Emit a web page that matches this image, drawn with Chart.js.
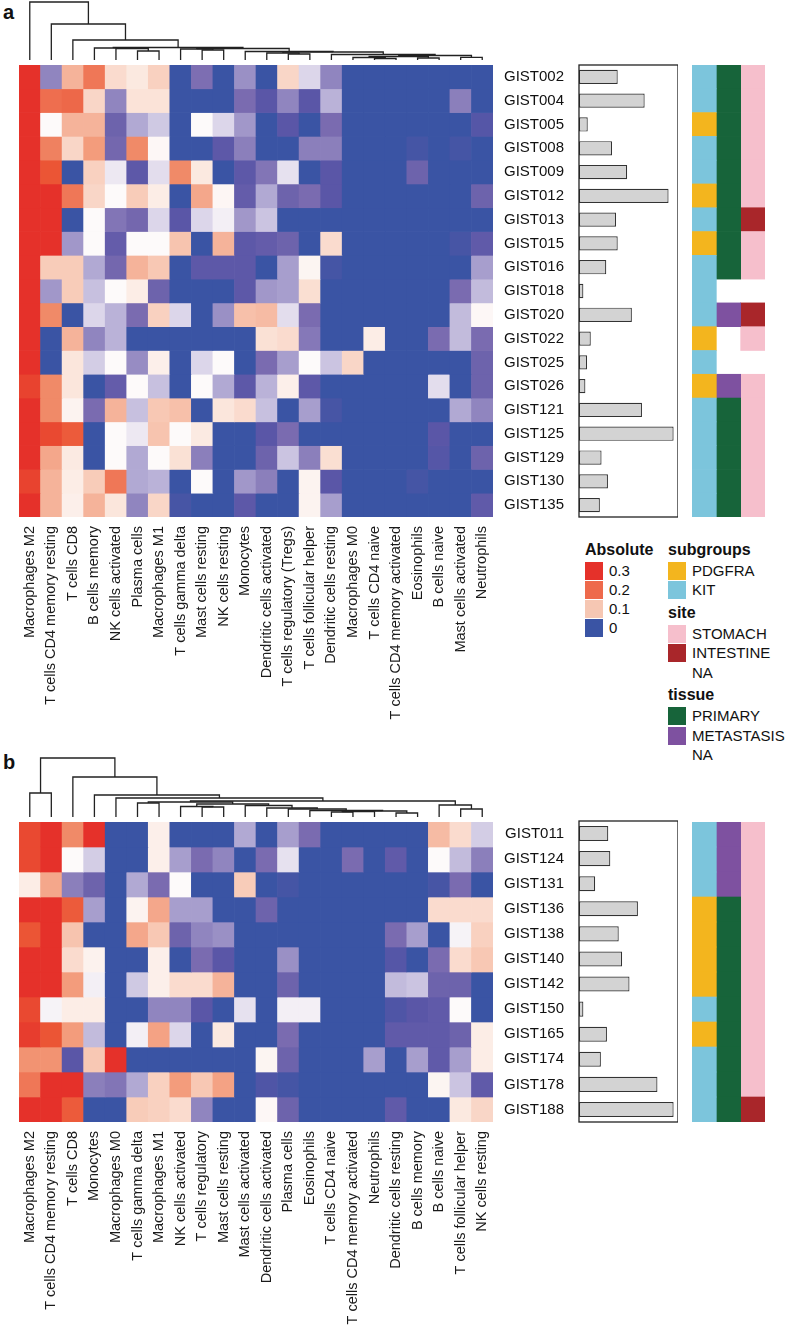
<!DOCTYPE html>
<html>
<head>
<meta charset="utf-8">
<script src="https://cdn.jsdelivr.net/npm/chart.js@4.4.1/dist/chart.umd.min.js"></script>
<style>
  body { margin: 0; background: #fff; width: 800px; height: 1331px; position: relative; overflow: hidden;
         font-family: "Liberation Sans", Arial, sans-serif; color: #111; }
  canvas { position: absolute; }
  .t { position: absolute; font-size: 15px; line-height: 18px; white-space: nowrap; }
  .h { position: absolute; font-size: 16px; font-weight: bold; line-height: 18px; }
  .sw { position: absolute; width: 18px; height: 18px; }
  .tag { position: absolute; font-size: 20px; font-weight: bold; }
</style>
</head>
<body>
<div class="tag" style="left:3px;top:1px">a</div>
<div class="tag" style="left:3px;top:751px">b</div>

<canvas id="dendA" width="474" height="60" style="left:19px;top:0px"></canvas>
<canvas id="heatA" width="474" height="682" style="left:19px;top:65px"></canvas>
<canvas id="barA" width="183" height="454" style="left:495px;top:64px"></canvas>
<canvas id="annA" width="73" height="452" style="left:692px;top:65px"></canvas>

<canvas id="dendB" width="474" height="60" style="left:19px;top:757px"></canvas>
<canvas id="heatB" width="474" height="509" style="left:19px;top:822px"></canvas>
<canvas id="barB" width="183" height="303" style="left:495px;top:820px"></canvas>
<canvas id="annB" width="73" height="300" style="left:692px;top:822px"></canvas>

<!-- legends -->
<div class="h" style="left:585px;top:541px">Absolute</div>
<div class="sw" style="left:585px;top:562px;background:#e5312a"></div><div class="t" style="left:609px;top:562px">0.3</div>
<div class="sw" style="left:585px;top:581px;background:#ee6a4c"></div><div class="t" style="left:609px;top:581px">0.2</div>
<div class="sw" style="left:585px;top:600px;background:#f6c7b3"></div><div class="t" style="left:609px;top:600px">0.1</div>
<div class="sw" style="left:585px;top:619px;background:#3a54a4"></div><div class="t" style="left:609px;top:619px">0</div>

<div class="h" style="left:668px;top:541px">subgroups</div>
<div class="sw" style="left:668px;top:562px;background:#f3b51e"></div><div class="t" style="left:692px;top:562px">PDGFRA</div>
<div class="sw" style="left:668px;top:581px;background:#7cc5dc"></div><div class="t" style="left:692px;top:581px">KIT</div>
<div class="h" style="left:668px;top:604px">site</div>
<div class="sw" style="left:668px;top:625px;background:#f6bfcc"></div><div class="t" style="left:692px;top:625px">STOMACH</div>
<div class="sw" style="left:668px;top:644px;background:#a9262a"></div><div class="t" style="left:692px;top:644px">INTESTINE</div>
<div class="t" style="left:692px;top:664px">NA</div>
<div class="h" style="left:668px;top:686px">tissue</div>
<div class="sw" style="left:668px;top:707px;background:#17643a"></div><div class="t" style="left:692px;top:707px">PRIMARY</div>
<div class="sw" style="left:668px;top:727px;background:#7e51a0"></div><div class="t" style="left:692px;top:727px">METASTASIS</div>
<div class="t" style="left:692px;top:746px">NA</div>

<script>
const FONT = '"Liberation Sans", Arial, sans-serif';

// ---- panel a ----
const cellTypesA = ['Macrophages M2', 'T cells CD4 memory resting', 'T cells CD8', 'B cells memory',
  'NK cells activated', 'Plasma cells', 'Macrophages M1', 'T cells gamma delta', 'Mast cells resting',
  'NK cells resting', 'Monocytes', 'Dendritic cells activated', 'T cells regulatory (Tregs)',
  'T cells follicular helper', 'Dendritic cells resting', 'Macrophages M0', 'T cells CD4 naive',
  'T cells CD4 memory activated', 'Eosinophils', 'B cells naive', 'Mast cells activated', 'Neutrophils'];
const samplesA = ['GIST002', 'GIST004', 'GIST005', 'GIST008', 'GIST009', 'GIST012', 'GIST013', 'GIST015',
  'GIST016', 'GIST018', 'GIST020', 'GIST022', 'GIST025', 'GIST026', 'GIST121', 'GIST125', 'GIST129',
  'GIST130', 'GIST135'];
// absolute fractions, one row per sample, columns in cellTypesA order
const absA = [
  [0.34, 0.03, 0.13, 0.19, 0.085, 0.073, 0.095, 0, 0.023, 0, 0.033, 0, 0.09, 0.05, 0.03, 0, 0, 0, 0, 0, 0, 0],
  [0.33, 0.2, 0.21, 0.09, 0.03, 0.078, 0.078, 0, 0, 0, 0.022, 0.012, 0.03, 0.012, 0.042, 0, 0, 0, 0, 0, 0.028, 0],
  [0.33, 0.06, 0.13, 0.13, 0.018, 0.04, 0.047, 0, 0.06, 0.05, 0.035, 0, 0.012, 0, 0.022, 0, 0, 0, 0, 0, 0, 0.01],
  [0.32, 0.18, 0.09, 0.15, 0.02, 0.17, 0.062, 0, 0, 0.013, 0.028, 0, 0, 0.028, 0.028, 0, 0, 0, 0.004, 0, 0.004, 0],
  [0.31, 0.24, 0, 0.095, 0.055, 0.013, 0.052, 0.17, 0.073, 0, 0.013, 0.025, 0.053, 0, 0.012, 0, 0, 0, 0.018, 0, 0, 0],
  [0.34, 0.3, 0.19, 0.09, 0.06, 0.1, 0.07, 0, 0.14, 0.063, 0.015, 0.04, 0.018, 0.022, 0.012, 0, 0, 0, 0, 0, 0, 0.018],
  [0.33, 0.3, 0, 0.06, 0.025, 0.02, 0.05, 0.012, 0.05, 0.057, 0.035, 0.046, 0, 0, 0, 0, 0, 0, 0, 0, 0, 0],
  [0.33, 0.3, 0.035, 0.06, 0.015, 0.06, 0.06, 0.11, 0, 0.13, 0.013, 0.015, 0.018, 0, 0.085, 0, 0, 0, 0, 0, 0.005, 0.014],
  [0.32, 0.1, 0.1, 0.04, 0.02, 0.13, 0.105, 0, 0.013, 0.013, 0.013, 0, 0.037, 0.064, 0.004, 0, 0, 0, 0, 0, 0, 0.037],
  [0.31, 0.035, 0.1, 0.045, 0.06, 0.07, 0.018, 0, 0, 0, 0.013, 0.035, 0.037, 0.082, 0, 0, 0, 0, 0, 0, 0.022, 0.044],
  [0.32, 0.17, 0, 0.05, 0.042, 0.022, 0.095, 0.05, 0, 0.033, 0.115, 0.12, 0.052, 0.022, 0, 0, 0, 0, 0, 0, 0.044, 0.062],
  [0.33, 0, 0.13, 0.03, 0.042, 0, 0, 0, 0, 0, 0, 0.08, 0.085, 0.026, 0, 0, 0.07, 0, 0, 0.022, 0.044, 0.022],
  [0.32, 0, 0.075, 0.048, 0.06, 0.032, 0.068, 0, 0.05, 0.06, 0, 0.022, 0.037, 0.06, 0.046, 0.09, 0, 0, 0, 0, 0, 0.018],
  [0.27, 0.17, 0.075, 0, 0.015, 0.06, 0.045, 0, 0.06, 0.04, 0.013, 0.042, 0.068, 0.013, 0, 0, 0, 0, 0, 0.052, 0, 0.018],
  [0.3, 0.17, 0.065, 0.022, 0.13, 0.045, 0.105, 0.115, 0, 0.075, 0.085, 0.045, 0, 0.037, 0.005, 0, 0, 0, 0, 0, 0.04, 0.03],
  [0.31, 0.26, 0.23, 0, 0.06, 0.055, 0.11, 0.06, 0.072, 0, 0, 0.012, 0.022, 0, 0, 0, 0, 0, 0, 0.012, 0, 0],
  [0.31, 0.14, 0.072, 0, 0.06, 0.04, 0.06, 0.08, 0.028, 0, 0, 0.018, 0.046, 0.028, 0.082, 0, 0, 0, 0, 0.01, 0, 0.018],
  [0.27, 0.13, 0.07, 0.1, 0.19, 0.04, 0.042, 0, 0.06, 0, 0.035, 0.028, 0, 0.065, 0.012, 0, 0, 0, 0.004, 0, 0, 0],
  [0.3, 0.13, 0.068, 0.13, 0.075, 0.03, 0.09, 0.005, 0, 0, 0.013, 0, 0, 0.065, 0.037, 0, 0, 0, 0, 0, 0, 0.014]
];
const scoreA = [115, 195, 26, 98, 143, 266, 110, 115, 81, 13, 157, 35, 24, 19, 187, 281, 67, 86, 62];
const subgroupA = ['KIT', 'KIT', 'PDGFRA', 'KIT', 'KIT', 'PDGFRA', 'KIT', 'PDGFRA', 'KIT', 'KIT', 'KIT',
  'PDGFRA', 'KIT', 'PDGFRA', 'KIT', 'KIT', 'KIT', 'KIT', 'KIT'];
const tissueA = ['PRIMARY', 'PRIMARY', 'PRIMARY', 'PRIMARY', 'PRIMARY', 'PRIMARY', 'PRIMARY', 'PRIMARY',
  'PRIMARY', 'NA', 'METASTASIS', 'NA', 'NA', 'METASTASIS', 'PRIMARY', 'PRIMARY', 'PRIMARY', 'PRIMARY', 'PRIMARY'];
const siteA = ['STOMACH', 'STOMACH', 'STOMACH', 'STOMACH', 'STOMACH', 'STOMACH', 'INTESTINE', 'STOMACH',
  'STOMACH', 'NA', 'INTESTINE', 'STOMACH', 'NA', 'STOMACH', 'STOMACH', 'STOMACH', 'STOMACH', 'STOMACH', 'STOMACH'];
// column clustering, hclust style: negative = leaf (1-based display order), positive = earlier merge
const mergeA = [[-21, -22, 2.7], [-17, -18, 1.5], [-19, -20, 2], [-16, 2, 2.5], [4, 3, 3.5], [5, 1, 4.5],
  [-15, 6, 5.5], [-13, -14, 6], [-12, 8, 7], [9, 7, 8], [-11, 10, 8.5], [-9, -10, 10], [-8, 12, 11],
  [13, 11, 11.5], [-6, -7, 9], [-5, 15, 11.5], [-4, 16, 12], [17, 14, 12.5], [-3, 18, 20], [-2, 19, 36],
  [-1, 20, 58]];

// ---- panel b ----
const cellTypesB = ['Macrophages M2', 'T cells CD4 memory resting', 'T cells CD8', 'Monocytes',
  'Macrophages M0', 'T cells gamma delta', 'Macrophages M1', 'NK cells activated', 'T cells regulatory',
  'Mast cells resting', 'Mast cells activated', 'Dendritic cells activated', 'Plasma cells', 'Eosinophils',
  'T cells CD4 naive', 'T cells CD4 memory activated', 'Neutrophils', 'Dendritic cells resting',
  'B cells memory', 'B cells naive', 'T cells follicular helper', 'NK cells resting'];
const samplesB = ['GIST011', 'GIST124', 'GIST131', 'GIST136', 'GIST138', 'GIST140', 'GIST142', 'GIST150',
  'GIST165', 'GIST174', 'GIST178', 'GIST188'];
const absB = [
  [0.26, 0.3, 0.17, 0.3, 0, 0, 0.068, 0, 0, 0, 0.04, 0, 0.037, 0.022, 0, 0, 0, 0, 0, 0.12, 0.085, 0.048],
  [0.26, 0.3, 0.06, 0.048, 0, 0, 0.068, 0.037, 0.022, 0.03, 0, 0.022, 0.053, 0, 0, 0.022, 0, 0.014, 0, 0.06, 0.044, 0.028],
  [0.07, 0.14, 0.028, 0.018, 0, 0.04, 0.022, 0.06, 0, 0, 0.1, 0, 0.004, 0, 0, 0, 0, 0, 0, 0.005, 0.022, 0],
  [0.3, 0.3, 0.23, 0.037, 0, 0.065, 0.14, 0.037, 0.037, 0, 0, 0.018, 0, 0, 0, 0, 0, 0, 0, 0.085, 0.085, 0.085],
  [0.24, 0.3, 0.11, 0, 0, 0.14, 0.105, 0.018, 0.03, 0.033, 0, 0, 0, 0, 0, 0, 0, 0.022, 0.037, 0, 0.058, 0.095],
  [0.3, 0.3, 0.085, 0.066, 0, 0, 0.068, 0, 0.022, 0.012, 0, 0, 0.033, 0, 0, 0, 0, 0.01, 0, 0.022, 0.085, 0.105],
  [0.3, 0.3, 0.15, 0.057, 0, 0.047, 0.068, 0.085, 0.085, 0.13, 0, 0, 0.018, 0, 0, 0, 0, 0.044, 0.046, 0.018, 0.018, 0],
  [0.26, 0.058, 0.07, 0.07, 0, 0, 0.03, 0.03, 0.012, 0, 0.053, 0, 0.057, 0.057, 0, 0, 0, 0.008, 0.012, 0.014, 0.06, 0],
  [0.28, 0.24, 0.15, 0.044, 0, 0.057, 0.145, 0.05, 0, 0.073, 0, 0, 0.022, 0, 0, 0, 0, 0.014, 0.014, 0.014, 0.018, 0.07],
  [0.16, 0.16, 0.012, 0.105, 0.3, 0, 0, 0, 0, 0, 0, 0.064, 0.018, 0, 0, 0, 0.037, 0, 0.037, 0.014, 0.037, 0.07],
  [0.19, 0.3, 0.3, 0.028, 0.025, 0.04, 0.095, 0.15, 0.105, 0.145, 0, 0.008, 0.004, 0, 0, 0, 0, 0, 0, 0.064, 0.046, 0.014],
  [0.3, 0.3, 0.23, 0, 0, 0.1, 0.095, 0.085, 0.03, 0, 0, 0.062, 0.018, 0, 0, 0, 0, 0.014, 0, 0, 0.073, 0.09]
];
const scoreB = [87, 93, 48, 175, 118, 128, 150, 13, 83, 65, 233, 281];
const subgroupB = ['KIT', 'KIT', 'KIT', 'PDGFRA', 'PDGFRA', 'PDGFRA', 'PDGFRA', 'KIT', 'PDGFRA', 'KIT', 'KIT', 'KIT'];
const tissueB = ['METASTASIS', 'METASTASIS', 'METASTASIS', 'PRIMARY', 'PRIMARY', 'PRIMARY', 'PRIMARY',
  'PRIMARY', 'PRIMARY', 'PRIMARY', 'PRIMARY', 'PRIMARY'];
const siteB = ['STOMACH', 'STOMACH', 'STOMACH', 'STOMACH', 'STOMACH', 'STOMACH', 'STOMACH', 'STOMACH',
  'STOMACH', 'STOMACH', 'STOMACH', 'INTESTINE'];
const mergeB = [[-6, -7, 14], [-9, -10, 10], [-8, 2, 10.5], [-15, -16, 5], [-17, 4, 5.5], [-18, -19, 4],
  [5, 6, 6], [-14, 7, 6.5], [-13, 8, 8], [-12, 9, 9], [-11, 10, 11.5], [3, 11, 13], [1, 12, 15],
  [-21, -22, 8], [-20, 14, 12], [13, 15, 16], [-5, 16, 19], [-4, 17, 22], [-3, 18, 40], [-1, -2, 24],
  [20, 19, 59]];

// ---- colours ----
const absStops = [[0, '#3a54a4'], [0.012, '#5a56a7'], [0.022, '#7a6bb0'], [0.03, '#9085bf'], [0.04, '#b1a9d3'],
  [0.05, '#dcd6ea'], [0.06, '#fdfafa'], [0.075, '#fbe6dc'], [0.09, '#f9d6c7'], [0.1, '#f8ccb9'],
  [0.13, '#f5b39a'], [0.15, '#f39c7c'], [0.17, '#f08a68'], [0.2, '#ee6e4f'], [0.24, '#eb5535'], [0.3, '#e5312a']];
const annColors = {
  KIT: '#7cc5dc', PDGFRA: '#f3b51e', PRIMARY: '#17643a', METASTASIS: '#7e51a0',
  STOMACH: '#f6bfcc', INTESTINE: '#a9262a', NA: 'rgba(0,0,0,0)'
};

function hex(c) { return [1, 3, 5].map(i => parseInt(c.slice(i, i + 2), 16)); }

function absColor(v) {
  if (v <= absStops[0][0]) return absStops[0][1];
  for (let i = 1; i < absStops.length; i++) {
    if (v <= absStops[i][0]) {
      const [v0, c0] = absStops[i - 1], [v1, c1] = absStops[i];
      const t = (v - v0) / (v1 - v0);
      const a = hex(c0), b = hex(c1);
      return 'rgb(' + a.map((x, k) => Math.round(x + (b[k] - x) * t)).join(',') + ')';
    }
  }
  return absStops[absStops.length - 1][1];
}

const noPlugins = { legend: { display: false }, tooltip: { enabled: false } };

function heatmap(id, cellTypes, samples, vals, labelH) {
  const datasets = samples.map((s, i) => ({
    label: s,
    data: cellTypes.map(() => 1),
    backgroundColor: vals[i].map(absColor),
    borderWidth: 0,
    barPercentage: 1,
    categoryPercentage: 1
  }));
  return new Chart(document.getElementById(id), {
    type: 'bar',
    data: { labels: cellTypes, datasets },
    options: {
      responsive: false, animation: false,
      layout: { padding: 0 },
      plugins: noPlugins,
      scales: {
        x: {
          stacked: true,
          grid: { display: false, drawTicks: false },
          border: { display: false },
          ticks: { autoSkip: false, minRotation: 90, maxRotation: 90, padding: 9, color: '#1a1a1a',
                   font: { family: FONT, size: 14.5 } },
          afterFit: s => { s.height = labelH; s.paddingLeft = 0; s.paddingRight = 0; }
        },
        y: { stacked: true, display: false, reverse: true, min: 0, max: samples.length }
      }
    }
  });
}

const frame = {
  id: 'frame',
  afterDraw(chart) {
    const { ctx, chartArea: a } = chart;
    ctx.save();
    ctx.strokeStyle = '#222';
    ctx.lineWidth = 1.3;
    ctx.strokeRect(a.left, a.top, a.right - a.left, a.bottom - a.top);
    ctx.restore();
  }
};

function scoreBars(id, samples, vals) {
  return new Chart(document.getElementById(id), {
    type: 'bar',
    data: {
      labels: samples,
      datasets: [{ data: vals, backgroundColor: '#d3d3d3', borderColor: '#333', borderWidth: 1.2,
                   borderSkipped: false, barPercentage: 0.6, categoryPercentage: 1 }]
    },
    options: {
      indexAxis: 'y', responsive: false, animation: false,
      layout: { padding: { top: 1, bottom: 1, right: 0, left: 0 } },
      plugins: noPlugins,
      scales: {
        x: { display: false, min: 0, max: 294 },
        y: {
          grid: { display: false, drawTicks: false },
          border: { display: false },
          ticks: { padding: 15, color: '#111', font: { family: FONT, size: 15 } },
          afterFit: s => { s.width = 84; s.paddingTop = 0; s.paddingBottom = 0; }
        }
      }
    },
    plugins: [frame]
  });
}

function annotation(id, samples, tracks) {
  return new Chart(document.getElementById(id), {
    type: 'bar',
    data: {
      labels: samples,
      datasets: tracks.map(t => ({
        data: samples.map(() => 1),
        backgroundColor: t.map(c => annColors[c]),
        borderWidth: 0, barPercentage: 1, categoryPercentage: 1
      }))
    },
    options: {
      indexAxis: 'y', responsive: false, animation: false,
      layout: { padding: 0 },
      plugins: noPlugins,
      scales: {
        x: { stacked: true, display: false, min: 0, max: tracks.length },
        y: { stacked: true, display: false }
      }
    }
  });
}

function dendrogram(id, merge, nLeaves, top) {
  const nodes = [];
  const pos = ref => ref < 0 ? { x: -ref - 1, h: 0 } : nodes[ref - 1];
  const datasets = merge.map(([l, r, h]) => {
    const a = pos(l), b = pos(r);
    nodes.push({ x: (a.x + b.x) / 2, h });
    return {
      data: [{ x: a.x, y: a.h }, { x: a.x, y: h }, { x: b.x, y: h }, { x: b.x, y: b.h }],
      showLine: true, pointRadius: 0, borderColor: '#222', borderWidth: 1.3, clip: false, tension: 0
    };
  });
  return new Chart(document.getElementById(id), {
    type: 'scatter',
    data: { datasets },
    options: {
      responsive: false, animation: false,
      layout: { padding: 0 },
      plugins: noPlugins,
      scales: {
        x: { display: false, min: -0.5, max: nLeaves - 0.5 },
        y: { display: false, min: 0, max: top }
      }
    }
  });
}

dendrogram('dendA', mergeA, cellTypesA.length, 60);
heatmap('heatA', cellTypesA, samplesA, absA, 230);
scoreBars('barA', samplesA, scoreA);
annotation('annA', samplesA, [subgroupA, tissueA, siteA]);

dendrogram('dendB', mergeB, cellTypesB.length, 60);
heatmap('heatB', cellTypesB, samplesB, absB, 209);
scoreBars('barB', samplesB, scoreB);
annotation('annB', samplesB, [subgroupB, tissueB, siteB]);
</script>
</body>
</html>
